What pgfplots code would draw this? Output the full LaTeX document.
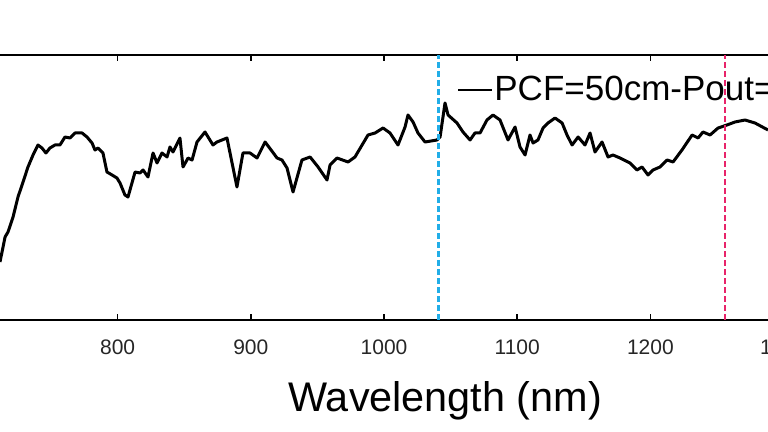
\documentclass[border=0pt]{standalone}
\usepackage{fontspec}
\setmainfont{Liberation Sans}
\usepackage{pgfplots}
\pgfplotsset{compat=1.18}
\definecolor{cyanline}{HTML}{22AEE8}
\definecolor{redline}{HTML}{E8246A}
\begin{document}
\begin{tikzpicture}
\begin{scope}
\clip (7.79pt,-56pt) rectangle (391.79pt,160pt);
\begin{axis}[
  at={(0,0)}, anchor=south west,
  scale only axis, width=406.26pt, height=132.5pt,
  xmin=700, xmax=1310, ymin=0, ymax=265,
  axis x line=box, axis y line=none, ytick=\empty,
  axis line style={line width=1pt, black},
  xtick={800,900,1000,1100,1200,1300},
  xtick pos=both,
  major tick length=3pt,
  every tick/.style={black, line width=0.8pt},
  /pgf/number format/.cd, 1000 sep={}, assume math mode=true, /pgfplots/.cd,
  xticklabel style={font=\fontsize{10.5}{10.5}\selectfont, text=black!85, anchor=base, yshift=-17.5pt},
  xlabel={Wavelength (nm)},
  xlabel style={font=\fontsize{20.7}{20.7}\selectfont, at={(rel axis cs:0.5672,0)}, anchor=base, yshift=-46pt},
  legend style={at={(axis cs:1054.8,230)}, anchor=west, draw=none, fill=none, inner sep=0pt, outer sep=0pt,
    nodes={inner sep=0pt}, column sep=0.5pt, font=\fontsize{17.5}{17.5}\selectfont},
  legend cell align=left,
  legend image code/.code={\draw[black, line width=1.2pt] (0pt,0pt) -- (17pt,0pt);},
]
\addplot[black, line width=1.5pt, line join=round] coordinates {
(711.7,58) (715.5,83) (717.7,88) (721.5,103) (725.2,123) (729.0,138) (732.7,153) (736.5,165)
(740.2,175) (743.2,172) (746.2,167) (749.2,172) (753.0,175) (756.7,175) (760.5,183) (764.3,182)
(768.0,187) (773.3,187) (777.0,183) (780.8,177) (783.0,170) (785.3,172) (789.0,167) (792.0,148)
(795.8,145) (799.5,142) (801.8,137) (805.5,125) (807.8,123) (813.1,148) (816.8,147) (819.1,150)
(822.8,143) (826.6,167) (829.6,157) (833.3,167) (837.1,163) (839.3,173) (841.6,168) (846.8,182)
(849.1,153) (852.9,162) (855.9,160) (859.6,178) (865.6,188) (871.6,175) (874.6,178) (878.4,180)
(882.1,182) (889.6,133) (894.1,167) (899.4,167) (904.7,162) (910.7,178) (919.7,162) (923.4,160)
(927.2,152) (931.7,128) (938.4,160) (944.5,163) (950.5,153) (957.2,140) (959.5,155) (964.7,162)
(973.0,158) (978.2,163) (988.0,185) (993.3,187) (999.3,192) (1004.5,187) (1010.5,175) (1015.8,193)
(1018.0,205) (1021.8,198) (1025.5,187) (1030.8,178) (1039.8,180) (1042.1,183) (1045.8,217) (1048.1,205)
(1054.8,197) (1059.3,188) (1064.6,180) (1068.3,187) (1072.1,187) (1077.3,200) (1081.8,205) (1087.1,200)
(1088.6,195) (1093.1,180) (1098.4,193) (1102.1,173) (1105.9,165) (1109.6,185) (1111.9,177) (1115.6,180)
(1119.4,192) (1123.1,197) (1128.4,202) (1133.7,197) (1137.4,185) (1141.2,175) (1145.7,183) (1150.9,175)
(1154.7,187) (1158.4,168) (1163.7,178) (1168.2,163) (1171.9,165) (1177.2,162) (1184.7,157) (1189.9,150)
(1193.7,153) (1198.2,145) (1202.0,150) (1207.2,153) (1212.5,160) (1217.0,158) (1223.7,170) (1231.3,185)
(1235.8,182) (1239.5,188) (1244.8,185) (1250.8,192) (1257.5,195) (1263.5,198) (1271.0,200) (1278.5,197)
(1288.3,190)
};
\addlegendentry{PCF=50cm-Pout=2W}
\addplot[cyanline, line width=1.4pt, dash pattern=on 3pt off 1.5pt, forget plot] coordinates {(1041,0) (1041,265)};
\addplot[redline, line width=1.4pt, dash pattern=on 3pt off 1.5pt, forget plot] coordinates {(1256,0) (1256,265)};
\end{axis}
\end{scope}
\pgfresetboundingbox
\useasboundingbox (7.79pt,-56pt) rectangle (391.79pt,160pt);
\end{tikzpicture}
\end{document}
